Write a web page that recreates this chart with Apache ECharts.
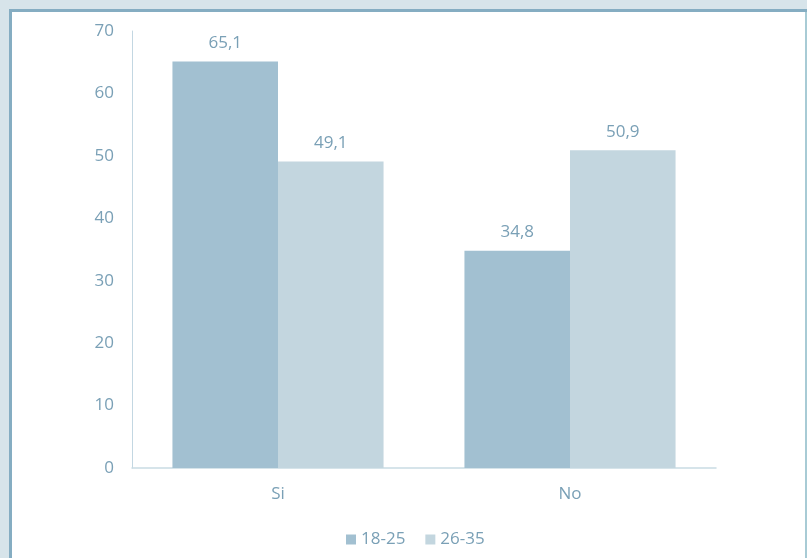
<!DOCTYPE html>
<html><head><meta charset="utf-8">
<script src="https://cdn.jsdelivr.net/npm/echarts@6/dist/echarts.min.js"></script>
<style>html,body{margin:0;padding:0;background:#d7e4ea}#c{width:807px;height:558px}</style>
</head><body><div id="c"></div>
<script>
const categories = ['Si', 'No'];
const seriesNames = ['18-25', '26-35'];
const values1825 = [65.1, 34.8];
const values2635 = [49.1, 50.9];
const yTicks = [0, 10, 20, 30, 40, 50, 60, 70];

const txt = '#7aa0b6';
const font = 'Open Sans';
const fs = 17;
const chart = echarts.init(document.getElementById('c'));
const lbl = {show: true, position: 'top', distance: 10, color: txt, fontSize: fs, fontFamily: font,
  formatter: p => String(p.value).replace('.', ',')};
chart.setOption({
  backgroundColor: '#d7e4ea',
  animation: false,
  graphic: [
    {type: 'rect', shape: {x: 9, y: 9, width: 798, height: 560}, style: {fill: '#85adc2'}, z: -10, silent: true},
    {type: 'rect', shape: {x: 12, y: 12, width: 793, height: 560}, style: {fill: '#ffffff'}, z: -9, silent: true},
    {type: 'rect', shape: {x: 805, y: 12, width: 2, height: 560}, style: {fill: '#a8cbd5'}, z: -9, silent: true}
  ],
  grid: {left: 132, right: 91, top: 31, bottom: 90},
  legend: {
    data: seriesNames, top: 526, left: 341, itemWidth: 10, itemHeight: 10, itemGap: 20,
    icon: 'rect', textStyle: {color: txt, fontSize: fs, fontFamily: font}
  },
  xAxis: {
    type: 'category', data: categories,
    axisLine: {lineStyle: {color: '#c9dbe4', width: 1.5}},
    axisTick: {show: false},
    axisLabel: {color: txt, fontSize: fs, fontFamily: font, margin: 18}
  },
  yAxis: {
    type: 'value', min: 0, max: 70, interval: 10,
    axisLine: {show: true, lineStyle: {color: '#c3d7e2'}},
    axisTick: {show: false},
    splitLine: {show: false},
    axisLabel: {color: txt, fontSize: fs, fontFamily: font, margin: 18,
      formatter: v => yTicks.includes(v) ? String(v) : ''}
  },
  series: [
    {name: seriesNames[0], type: 'bar', data: values1825, barGap: '0%', barCategoryGap: '27.7%',
     itemStyle: {color: '#a2c0d1'}, label: lbl},
    {name: seriesNames[1], type: 'bar', data: values2635, barGap: '0%', barCategoryGap: '27.7%',
     itemStyle: {color: '#c3d6df'}, label: lbl}
  ]
});
</script></body></html>
